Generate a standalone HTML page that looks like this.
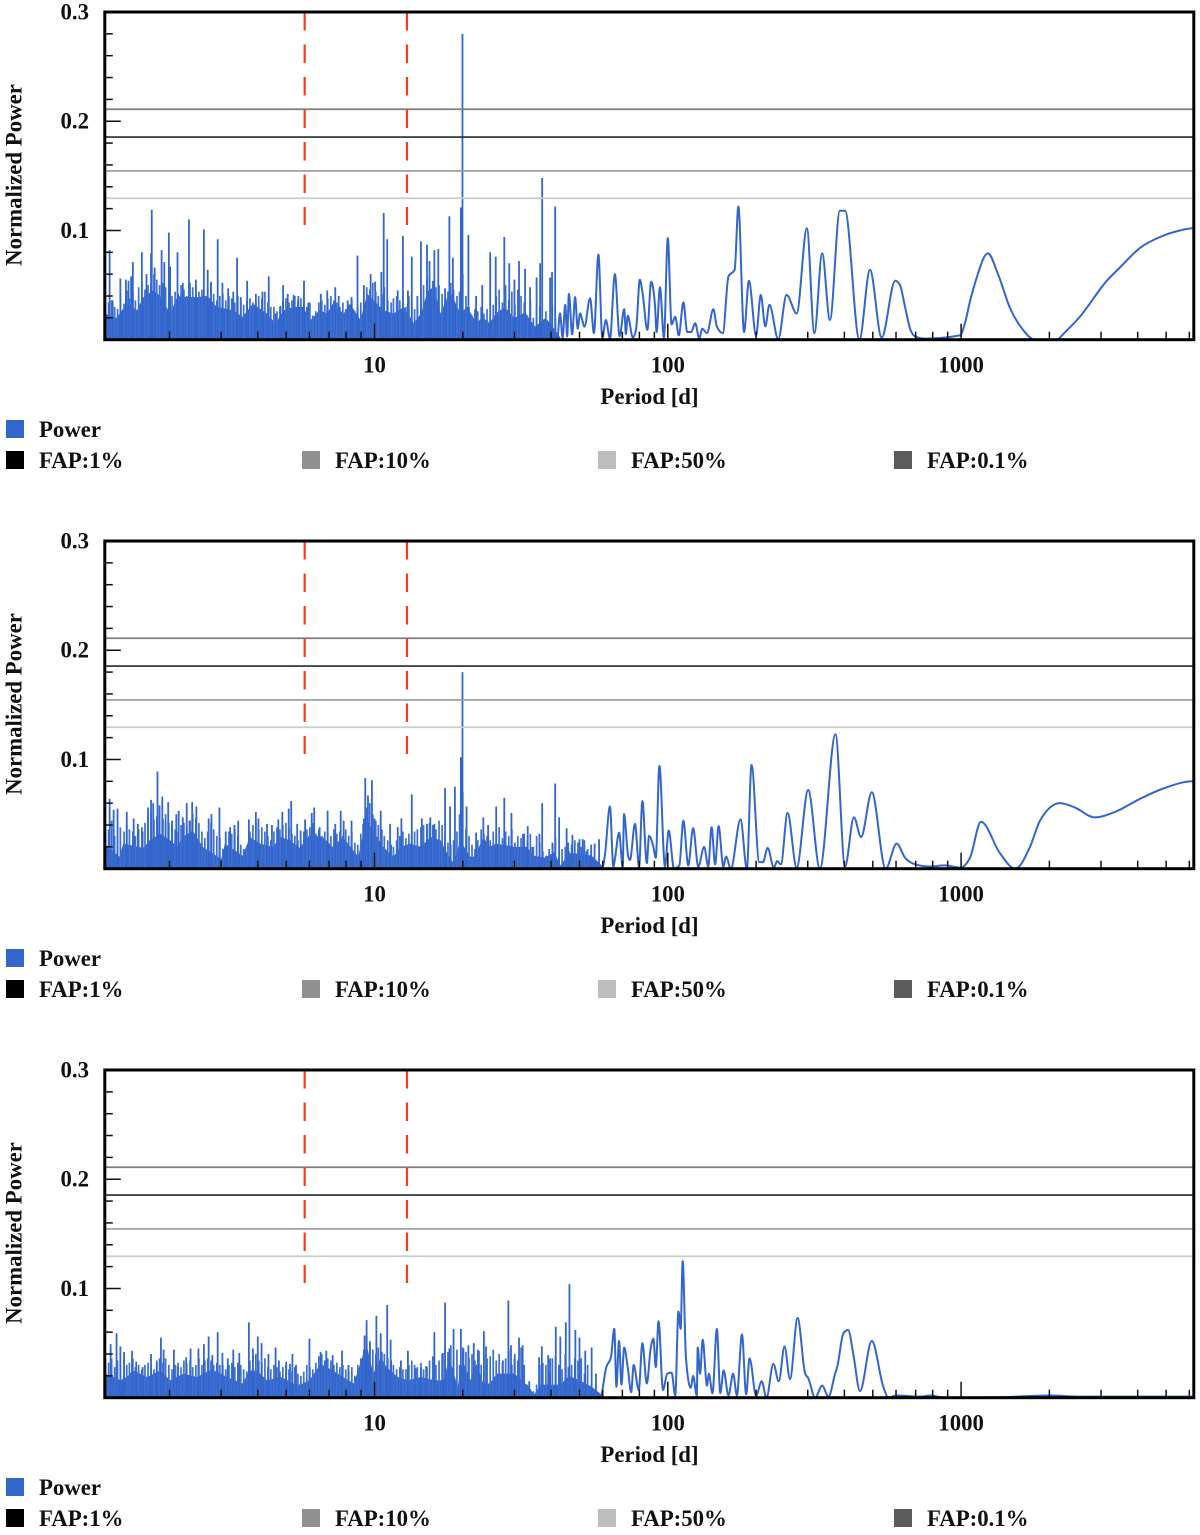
<!DOCTYPE html>
<html lang="en">
<head>
<meta charset="utf-8">
<title>Normalized power periodograms</title>
<style>
html,body{margin:0;padding:0;background:#fff;}
svg{display:block;}
text{font-family:"Liberation Serif",serif;font-weight:bold;font-size:22.8px;fill:#111;}
</style>
</head>
<body>
<svg id="chart" xmlns="http://www.w3.org/2000/svg" width="1200" height="1535" viewBox="0 0 1200 1535">
  <rect x="0" y="0" width="1200" height="1535" fill="#fff"/>

  <g id="panel-0">
    <g class="plot"></g>
    <text transform="translate(21.5 175) rotate(-90)" text-anchor="middle">Normalized Power</text>
    <text x="649.5" y="404" text-anchor="middle">Period [d]</text>
    <g>
      <rect x="6" y="420" width="18" height="18" fill="#3366cc"/>
      <text x="39" y="437">Power</text>
      <rect x="6" y="451" width="18" height="18" fill="#000"/>
      <text x="39" y="468">FAP:1%</text>
      <rect x="302" y="451" width="18" height="18" fill="#919191"/>
      <text x="335" y="468">FAP:10%</text>
      <rect x="598" y="451" width="18" height="18" fill="#bdbdbd"/>
      <text x="631" y="468">FAP:50%</text>
      <rect x="894" y="451" width="18" height="18" fill="#5c5c5c"/>
      <text x="927" y="468">FAP:0.1%</text>
    </g>
  </g>

  <g id="panel-1" transform="translate(0 529)">
    <g class="plot"></g>
    <text transform="translate(21.5 175) rotate(-90)" text-anchor="middle">Normalized Power</text>
    <text x="649.5" y="404" text-anchor="middle">Period [d]</text>
    <g>
      <rect x="6" y="420" width="18" height="18" fill="#3366cc"/>
      <text x="39" y="437">Power</text>
      <rect x="6" y="451" width="18" height="18" fill="#000"/>
      <text x="39" y="468">FAP:1%</text>
      <rect x="302" y="451" width="18" height="18" fill="#919191"/>
      <text x="335" y="468">FAP:10%</text>
      <rect x="598" y="451" width="18" height="18" fill="#bdbdbd"/>
      <text x="631" y="468">FAP:50%</text>
      <rect x="894" y="451" width="18" height="18" fill="#5c5c5c"/>
      <text x="927" y="468">FAP:0.1%</text>
    </g>
  </g>

  <g id="panel-2" transform="translate(0 1058)">
    <g class="plot"></g>
    <text transform="translate(21.5 175) rotate(-90)" text-anchor="middle">Normalized Power</text>
    <text x="649.5" y="404" text-anchor="middle">Period [d]</text>
    <g>
      <rect x="6" y="420" width="18" height="18" fill="#3366cc"/>
      <text x="39" y="437">Power</text>
      <rect x="6" y="451" width="18" height="18" fill="#000"/>
      <text x="39" y="468">FAP:1%</text>
      <rect x="302" y="451" width="18" height="18" fill="#919191"/>
      <text x="335" y="468">FAP:10%</text>
      <rect x="598" y="451" width="18" height="18" fill="#bdbdbd"/>
      <text x="631" y="468">FAP:50%</text>
      <rect x="894" y="451" width="18" height="18" fill="#5c5c5c"/>
      <text x="927" y="468">FAP:0.1%</text>
    </g>
  </g>
</svg>

<script>
// ---- shared axis values ----
const yMajorTicks = [0.1, 0.2, 0.3];
const yMajorLabels = ['0.1', '0.2', '0.3'];
const yMinorTicks = [0.02, 0.04, 0.06, 0.08, 0.12, 0.14, 0.16, 0.18, 0.22, 0.24, 0.26, 0.28];
const xMajorTicks = [10, 100, 1000];
const xMajorLabels = ['10', '100', '1000'];
const xMinorTicks = [2, 3, 4, 5, 6, 7, 8, 9, 20, 30, 40, 50, 60, 70, 80, 90, 200, 300, 400, 500, 600, 700, 800, 900, 2000, 3000, 4000, 5000, 6000];
const fapLevels = [0.211, 0.1855, 0.1545, 0.1295];
const fapNames = ['fap-0-1-line', 'fap-1-line', 'fap-10-line', 'fap-50-line'];
const fapColors = ['#7d7d7d', '#2a2a2a', '#9a9a9a', '#cccccc'];
const markerPeriods = [5.78, 12.9];
const markerFloor = 0.105;

// periods at which the dense forest of lesser peaks was read
const fineGridPeriods = [1.21,1.24,1.27,1.30,1.33,1.36,1.40,1.43,1.46,1.50,
  1.53,1.57,1.61,1.65,1.69,1.73,1.77,1.81,1.85,1.90,
  1.94,1.99,2.04,2.09,2.14,2.19,2.24,2.29,2.35,2.40,
  2.46,2.52,2.58,2.64,2.70,2.77,2.83,2.90,2.97,3.04,
  3.11,3.19,3.26,3.34,3.42,3.50,3.58,3.67,3.76,3.85,
  3.94,4.03,4.13,4.23,4.33,4.43,4.54,4.65,4.76,4.87,
  4.99,5.11,5.23,5.35,5.48,5.61,5.74,5.88,6.02,6.16,
  6.31,6.46,6.61,6.77,6.93,7.10,7.27,7.44,7.62,7.80,
  7.98,8.17,8.37,8.57,8.77,8.98,9.19,9.41,9.64,9.87,
  10.1,10.3,10.6,10.8,11.1,11.4,11.6,11.9,12.2,12.5,
  12.8,13.1,13.4,13.7,14.0,14.4,14.7,15.1,15.4,15.8,
  16.2,16.6,17.0,17.4,17.8,18.2,18.6,19.1,19.5,20.0,
  20.5,21.0,21.5,22.0,22.5,23.1,23.6,24.2,24.8,25.4,
  26,26.6,27.3,28,28.7,29.4,30.1,30.8,31.6,32.4,
  33.2,34,34.8,35.7,36.6,37.5,38.4,39.4,40.4,41.4,
  42.5,43.6,44.7,45.8,47,48.2,49.4,50.7,52,53.3];

// ---- panel 1 ----
const p1SpikePeriods = [1.25,1.28,1.36,1.42,1.45,1.48,1.50,1.61,1.67,1.73,
  1.74,1.78,1.88,1.92,1.99,2.01,2.13,2.22,2.33,2.46,
  2.62,2.70,2.77,2.92,3.03,3.17,3.30,3.40,3.50,3.68,
  3.94,4.15,4.36,4.60,4.78,4.88,5.06,5.30,5.50,5.75,
  5.95,6.56,6.90,7.35,7.55,8.10,8.35,8.75,9.20,9.70,
  10.05,10.55,10.75,11.05,12.0,12.5,13.0,13.4,14.0,14.4,
  15.1,15.4,16.0,16.5,17.4,18.0,18.5,19.7,19.95,20.9,
  22.2,23.3,24.8,25.9,27.7,28.8,30.0,31.1,32.6,33.9,
  35.7,36.7,37.3,39.7,40.3,41.3];
const p1SpikePowers = [.082,.036,.056,.055,.054,.058,.071,.080,.060,.079,
  .119,.066,.082,.071,.098,.067,.080,.052,.110,.055,
  .101,.064,.053,.092,.052,.047,.044,.075,.039,.054,
  .042,.044,.058,.024,.031,.050,.042,.041,.040,.054,
  .034,.042,.045,.048,.040,.036,.039,.077,.050,.060,
  .053,.062,.116,.092,.045,.095,.045,.076,.040,.090,
  .087,.072,.082,.083,.047,.113,.075,.121,.280,.096,
  .040,.050,.080,.076,.094,.070,.055,.072,.065,.048,
  .057,.070,.148,.057,.062,.122];
const p1FinePowers = [.040,.034,.036,.030,.028,.040,.033,.045,.038,.044,
  .036,.048,.052,.046,.050,.045,.060,.055,.050,.052,
  .048,.050,.040,.044,.042,.050,.046,.040,.052,.048,
  .050,.044,.046,.040,.048,.052,.042,.036,.040,.042,
  .036,.040,.038,.034,.040,.036,.032,.036,.038,.034,
  .036,.040,.038,.044,.034,.030,.030,.026,.030,.036,
  .038,.034,.036,.040,.036,.038,.042,.030,.034,.022,
  .026,.034,.036,.032,.038,.040,.036,.034,.030,.034,
  .028,.032,.036,.026,.030,.034,.040,.048,.046,.052,
  .044,.040,.042,.048,.036,.034,.038,.040,.036,.044,
  .030,.040,.034,.028,.030,.046,.050,.056,.058,.054,
  .048,.050,.042,.038,.044,.052,.046,.040,.044,.060,
  .040,.030,.022,.028,.026,.030,.024,.028,.020,.032,
  .040,.046,.034,.050,.036,.044,.032,.046,.040,.034,
  .022,.036,.020,.028,.030,.014,.026,.010,.032,.020,
  0,0,0,0,0,0,0,0,0,0];
const p1BodyPeriods = [1.2,1.32,1.43,1.55,1.63,1.76,1.86,2.01,2.13,2.3,
  2.48,2.7,2.9,3.3,3.55,3.85,4.3,4.6,4.9,5.3,
  5.7,6.05,6.5,6.9,7.2,7.85,8.25,8.95,9.45,10.2,
  10.7,11.6,12.6,13.6,14.4,15.2,15.9,16.8,18.1,19.6,
  20.7,22.3,23.3,24.7,25.9,27.8,30,32.6,35.3,38.3,41,43];
const p1BodyPowers = [.024,.020,.033,.027,.039,.045,.040,.024,.040,.039,
  .039,.040,.030,.027,.021,.033,.024,.015,.027,.030,
  .030,.018,.027,.024,.033,.024,.033,.018,.042,.033,
  .027,.024,.030,.015,.024,.045,.048,.024,.045,.024,
  .030,.015,.021,.015,.024,.030,.020,.025,.012,.020,.010,.002];
const p1CurvePeriods = [42,42.9,43.8,44.7,45.4,46,47.2,48.3,49.3,50.2,
  52,54.3,56,58,59.8,61.5,63.5,66,68.5,71,
  72,73,76,78,80.3,82,85.2,87.7,90.4,91.6,
  94,97,100,103,106,109,113,116.5,120,124,
  128,131,136,143,147,154,161,169,174,182,
  189,200,207.5,215,222,238,254,275,298,316,
  336,357,386,402,450,489,536,596,619,644,
  670,697,750,991,1030,1072,1122,1234,1336,1468,
  1626,1786,2138,2173,2541,3141,3476,4074,4764,5572,6170];
const p1CurvePowers = [.001,.024,.002,.032,.003,.042,.005,.039,.010,.024,
  .012,.038,.006,.078,.002,.018,.001,.060,.003,.028,
  .005,.022,.002,.010,.055,.043,.009,.053,.032,.007,
  .048,.002,.093,.014,.021,.004,.034,.007,.007,.015,
  .001,.010,.006,.028,.012,.006,.058,.064,.122,.007,
  .054,.004,.041,.012,.032,.0005,.041,.024,.102,.006,
  .079,.018,.118,.118,.000,.064,.002,.054,.050,.030,
  .010,.003,.001,.004,.015,.035,.054,.079,.060,.029,
  .009,.000,.000,.002,.021,.054,.066,.084,.094,.100,.102];

// ---- panel 2 ----
const p2SpikePeriods = [1.25,1.29,1.33,1.43,1.51,1.56,1.62,1.69,1.73,1.76,
  1.82,1.85,1.89,1.94,1.98,2.04,2.11,2.15,2.22,2.29,
  2.34,2.39,2.47,2.72,2.78,2.96,3.11,3.22,3.33,3.43,
  3.73,3.94,4.02,4.3,4.47,4.7,4.85,5.1,5.2,5.45,
  5.6,5.8,6.11,6.23,6.5,6.92,7.35,7.67,7.85,8.35,
  9.15,9.3,9.5,9.8,10,10.5,11.3,12.0,12.35,13.4,
  14.5,15.1,15.5,16,17.4,18.1,18.8,19.7,19.95,20.6,
  22.2,23.5,24.4,26,27.7,29.3,32.1,33.3,34.5,36.5,
  37.3,40.5,41.3,42.6,45.2,46,47.3,50,51.3,52.8,
  54.8,56.3,58.3];
const p2SpikePowers = [.064,.054,.055,.052,.046,.041,.034,.056,.063,.060,
  .089,.058,.066,.044,.061,.044,.050,.053,.047,.060,
  .044,.061,.057,.046,.050,.056,.034,.038,.040,.044,
  .045,.052,.046,.041,.040,.045,.052,.055,.062,.041,
  .035,.045,.051,.056,.038,.053,.041,.053,.044,.044,
  .041,.083,.067,.081,.046,.053,.041,.038,.046,.068,
  .046,.041,.047,.041,.074,.057,.075,.102,.180,.057,
  .033,.047,.040,.057,.065,.051,.032,.039,.020,.032,
  .060,.023,.078,.047,.037,.016,.031,.027,.027,.016,
  .022,.023,.027];
const p2FinePowers = [.042,.036,.044,.030,.026,.038,.034,.040,.036,.034,
  .030,.036,.038,.042,.048,.050,.045,.048,.044,.046,
  .050,.042,.040,.036,.034,.040,.042,.038,.044,.050,
  .046,.042,.034,.028,.034,.042,.036,.030,.028,.018,
  .022,.034,.032,.036,.030,.022,.018,.020,.034,.040,
  .042,.036,.038,.034,.030,.026,.034,.038,.036,.040,
  .042,.038,.032,.030,.026,.024,.034,.036,.038,.042,
  .032,.036,.030,.034,.036,.030,.036,.032,.034,.030,
  .036,.030,.034,.024,.022,.032,.046,.056,.060,.050,
  .044,.040,.036,.030,.026,.022,.020,.026,.030,.034,
  .028,.032,.030,.034,.036,.038,.040,.038,.042,.040,
  .036,.044,.040,.030,.024,.022,.026,.034,.050,.070,
  .036,.030,.022,.018,.026,.036,.032,.030,.026,.034,
  .030,.038,.028,.034,.030,.036,.024,.030,.028,.032,
  .026,.032,.020,.030,.024,.016,.012,.018,.024,.028,
  .010,.018,.020,.024,.022,.026,.024,.020,.026,.018];
const p2BodyPeriods = [1.2,1.35,1.39,1.63,1.71,1.86,2.01,2.13,2.22,2.4,
  2.6,3,3.09,3.55,3.76,4.07,4.5,4.78,5.15,5.56,
  6,6.66,7.2,7.8,8.8,9.15,9.45,9.9,10.7,11.6,
  12.3,13.2,14.4,15.5,16.8,17.7,18.6,19.6,21.2,22,
  23.5,24.7,26,30,33,35,38,41,43,46,50,55,60];
const p2BodyPowers = [.023,.011,.023,.019,.026,.032,.026,.020,.029,.035,
  .020,.009,.023,.012,.029,.023,.020,.029,.026,.019,
  .031,.029,.020,.029,.011,.032,.044,.035,.020,.011,
  .020,.023,.020,.029,.026,.014,.005,.026,.011,.011,
  .029,.020,.023,.020,.020,.012,.010,.015,.003,.014,.014,.012,.002];
const p2CurvePeriods = [60,61,63.5,65.2,66.1,68.2,70.2,70.9,73.3,74.3,
  77.3,79.8,81.9,84.8,86.3,89.3,91,93.6,97.8,100.7,
  105,109.5,113,117.4,122,127,133,137.4,141,145,
  149,154.6,158,164,177,186,193,205,211,219,
  230,236,243,256,275,301,330,373,402,431,
  456,496,553,603,644,697,783,881,991,1072,
  1169,1358,1528,1718,1858,2173,2443,2858,3350,4074,4955,6170];
const p2CurvePowers = [.002,.012,.057,.002,.010,.033,.002,.050,.011,.008,
  .041,.002,.062,.005,.030,.020,.010,.094,.002,.035,
  .000,.003,.044,.003,.037,.002,.020,.002,.038,.004,
  .039,.002,.011,.000,.045,.000,.095,.006,.006,.019,
  .001,.007,.004,.051,.001,.072,.000,.123,.002,.047,
  .029,.070,.000,.023,.010,.004,.002,.003,.001,.010,
  .043,.014,.000,.020,.044,.060,.056,.047,.052,.064,.074,.080];

// ---- panel 3 ----
const p3SpikePeriods = [1.26,1.32,1.36,1.40,1.49,1.54,1.62,1.73,1.81,1.87,
  1.91,2.07,2.13,2.28,2.36,2.51,2.62,2.72,2.80,2.92,
  3.03,3.16,3.30,3.46,3.73,3.85,4.0,4.12,4.35,4.6,
  4.72,5.0,5.15,5.25,5.4,6.0,6.55,6.85,7.2,7.75,
  8.15,9.05,9.25,9.4,9.65,10.15,10.5,11.05,11.35,12.3,
  13,13.8,14.4,15,16,17.1,17.4,18,18.6,19.7,
  20.1,20.9,21.8,22.7,23.6,24,27.4,28.6,29.2,30,
  31.1,32,33.7,36.4,37.2,39.1,39.7,41.5,43,44.9,
  46.2,48.4,50,52.3,55,56.9];
const p3SpikePowers = [.049,.059,.047,.042,.043,.033,.028,.040,.032,.055,
  .044,.044,.029,.037,.045,.045,.049,.056,.039,.060,
  .041,.036,.044,.041,.069,.045,.056,.050,.040,.046,
  .034,.033,.031,.040,.030,.054,.042,.043,.039,.043,
  .030,.036,.057,.071,.050,.075,.059,.085,.053,.034,
  .043,.027,.028,.029,.060,.041,.087,.045,.063,.063,
  .045,.048,.050,.043,.061,.047,.034,.089,.048,.036,
  .055,.048,.015,.037,.047,.039,.036,.065,.056,.069,
  .104,.062,.055,.043,.046,.022];
const p3FinePowers = [.030,.032,.036,.028,.034,.030,.034,.030,.032,.036,
  .028,.030,.026,.030,.032,.028,.026,.034,.036,.032,
  .036,.030,.026,.030,.032,.028,.034,.032,.034,.028,
  .030,.036,.030,.034,.036,.034,.030,.032,.030,.030,
  .026,.030,.032,.028,.032,.030,.026,.024,.034,.038,
  .040,.034,.032,.036,.028,.026,.030,.028,.024,.028,
  .030,.026,.024,.028,.022,.020,.024,.030,.028,.026,
  .032,.038,.040,.034,.036,.034,.030,.032,.028,.030,
  .026,.024,.028,.020,.030,.036,.044,.056,.052,.044,
  .040,.046,.042,.040,.036,.034,.030,.026,.028,.026,
  .026,.030,.034,.030,.028,.032,.026,.028,.034,.038,
  .030,.034,.040,.046,.042,.048,.036,.044,.030,.046,
  .042,.036,.040,.034,.044,.030,.040,.036,.038,.044,
  .034,.040,.032,.036,.044,.030,.040,.034,.046,.030,
  .012,.008,.006,.012,.030,.032,.030,.024,.036,.038,
  .030,.026,.040,.028,.030,.036,.034,.036,.022,.030];
const p3BodyPeriods = [1.2,1.29,1.36,1.43,1.5,1.68,1.86,2.01,2.23,2.48,
  2.75,2.9,3.14,3.55,3.75,3.97,4.3,4.8,5.3,5.6,
  6,6.55,7.2,7.8,8.5,9.15,9.45,9.9,10.5,11,
  12,13,14.4,16,17.2,18,19.2,20,21.2,22.3,
  23.5,24.7,26.1,30,33,35,37,43,46,50,55,60];
const p3BodyPowers = [.022,.019,.016,.019,.025,.019,.025,.016,.022,.019,
  .025,.024,.019,.013,.025,.025,.016,.019,.013,.012,
  .016,.031,.025,.019,.013,.040,.046,.022,.037,.028,
  .019,.016,.019,.016,.016,.037,.010,.034,.016,.031,
  .013,.013,.022,.022,.012,.003,.012,.012,.020,.016,.010,.002];
const p3CurvePeriods = [59,61.7,64,65.7,66.8,68.2,69.5,71,73,75,
  76.5,79.6,81.9,84.8,87.4,89.3,91,93,96.3,99.6,
  103,106,108.7,110.6,112.4,115.3,119.7,122,125.5,126.5,
  128.8,131.5,136,138,142,147,151,155,161,167,
  172,179,185,190,200,209,217,229,239,250,
  261,277,294,301,318,336,353,372,378,397,
  412,429,452,496,543,565,603,724,783,881,
  1358,2010,2541,6170];
const p3CurvePowers = [.002,.028,.037,.063,.010,.052,.012,.046,.028,.005,
  .030,.007,.050,.013,.045,.054,.028,.070,.007,.022,
  .023,.002,.079,.063,.125,.037,.009,.020,.002,.046,
  .022,.053,.011,.022,.004,.063,.004,.025,.002,.022,
  .002,.058,.003,.036,.002,.015,.000,.031,.015,.047,
  .017,.073,.022,.018,.000,.011,.001,.022,.028,.059,
  .062,.040,.006,.052,.010,.000,.002,.001,.002,.000,
  .0005,.002,.001,.001];

const panelSeries = [
  {sp:p1SpikePeriods, sv:p1SpikePowers, fv:p1FinePowers, bp:p1BodyPeriods, bv:p1BodyPowers, cp:p1CurvePeriods, cv:p1CurvePowers},
  {sp:p2SpikePeriods, sv:p2SpikePowers, fv:p2FinePowers, bp:p2BodyPeriods, bv:p2BodyPowers, cp:p2CurvePeriods, cv:p2CurvePowers},
  {sp:p3SpikePeriods, sv:p3SpikePowers, fv:p3FinePowers, bp:p3BodyPeriods, bv:p3BodyPowers, cp:p3CurvePeriods, cv:p3CurvePowers}
];

// ---- axis functions (panel-local pixels) ----
const PLOT_LEFT = 104.8, PLOT_RIGHT = 1193.8, PLOT_TOP = 12, PLOT_BOTTOM = 339.7;
function xScale(period) { return 374.5 + 293.3 * (Math.log10(period) - 1); }
function yScale(power) { return PLOT_BOTTOM - (PLOT_BOTTOM - PLOT_TOP) * power / 0.3; }

const NS = 'http://www.w3.org/2000/svg';
function make(tag, parent) {
  const el = document.createElementNS(NS, tag);
  parent.appendChild(el);
  return el;
}
function smoothPath(xs, ys) {
  // monotone cubic interpolation through every reading
  const n = xs.length, m = [];
  for (let i = 0; i < n; i++) {
    if (i === 0 || i === n - 1) { m.push(0); continue; }
    const ha = xs[i] - xs[i-1], hb = xs[i+1] - xs[i];
    const a = (ys[i] - ys[i-1]) / ha, b = (ys[i+1] - ys[i]) / hb;
    if (a * b <= 0) { m.push(0); continue; }
    const p = (a * hb + b * ha) / (ha + hb);
    m.push(Math.sign(a) * Math.min(Math.abs(a) * 2, Math.abs(b) * 2, Math.abs(p)));
  }
  let d = 'M' + xs[0].toFixed(2) + ' ' + ys[0].toFixed(2);
  for (let i = 0; i < n - 1; i++) {
    const h = (xs[i+1] - xs[i]) / 3;
    d += 'C' + (xs[i] + h).toFixed(2) + ' ' + (ys[i] + m[i] * h).toFixed(2) + ' ' +
         (xs[i+1] - h).toFixed(2) + ' ' + (ys[i+1] - m[i+1] * h).toFixed(2) + ' ' +
         xs[i+1].toFixed(2) + ' ' + ys[i+1].toFixed(2);
  }
  return d;
}

panelSeries.forEach(function (series, idx) {
  const plot = document.querySelector('#panel-' + idx + ' .plot');

  // dense floor of the periodogram
  let bodyD = 'M' + xScale(series.bp[0]).toFixed(2) + ' ' + PLOT_BOTTOM;
  series.bp.forEach(function (p, i) {
    bodyD += 'L' + xScale(p).toFixed(2) + ' ' + yScale(series.bv[i]).toFixed(2);
  });
  bodyD += 'L' + xScale(series.bp[series.bp.length - 1]).toFixed(2) + ' ' + PLOT_BOTTOM + 'Z';
  const body = make('path', plot);
  
  
  body.setAttribute('d', bodyD);
  body.setAttribute('fill', '#3366cc');

  // forest of lesser peaks
  let fineD = '';
  fineGridPeriods.forEach(function (p, i) {
    if (!series.fv[i]) { return; }
    const x = xScale(p).toFixed(2);
    fineD += 'M' + x + ' ' + PLOT_BOTTOM + 'L' + x + ' ' + yScale(series.fv[i]).toFixed(2);
  });
  const fine = make('path', plot);
  
  
  fine.setAttribute('d', fineD);
  fine.setAttribute('fill', 'none');
  fine.setAttribute('stroke', '#3f70d0');
  fine.setAttribute('stroke-width', '1.7');

  // individual spikes
  let spikeD = '';
  series.sp.forEach(function (p, i) {
    const x = xScale(p).toFixed(2);
    spikeD += 'M' + x + ' ' + PLOT_BOTTOM + 'L' + x + ' ' + yScale(series.sv[i]).toFixed(2);
  });
  const spikes = make('path', plot);
  
  
  spikes.setAttribute('d', spikeD);
  spikes.setAttribute('fill', 'none');
  spikes.setAttribute('stroke', '#3366cc');
  spikes.setAttribute('stroke-width', '1.8');

  // smooth long-period part
  const curve = make('path', plot);
  
  
  curve.setAttribute('d', smoothPath(series.cp.map(xScale), series.cv.map(yScale)));
  curve.setAttribute('fill', 'none');
  curve.setAttribute('stroke', '#3366cc');
  curve.setAttribute('stroke-width', '2');

  // FAP levels
  fapLevels.forEach(function (level, i) {
    const line = make('line', plot);
    
    
    line.setAttribute('x1', PLOT_LEFT);
    line.setAttribute('x2', PLOT_RIGHT);
    line.setAttribute('y1', yScale(level));
    line.setAttribute('y2', yScale(level));
    line.setAttribute('stroke', fapColors[i]);
    line.setAttribute('stroke-width', '1.7');
  });

  // red period markers
  markerPeriods.forEach(function (period) {
    const marker = make('line', plot);
    
    
    marker.setAttribute('x1', xScale(period));
    marker.setAttribute('x2', xScale(period));
    marker.setAttribute('y1', PLOT_TOP);
    marker.setAttribute('y2', yScale(markerFloor));
    marker.setAttribute('stroke', '#ff3a1c');
    marker.setAttribute('stroke-width', '2.2');
    marker.setAttribute('stroke-dasharray', '18.5 14');
  });

  // y ticks
  yMinorTicks.forEach(function (v) {
    const t = make('line', plot);
    
    
    t.setAttribute('x1', PLOT_LEFT);
    t.setAttribute('x2', PLOT_LEFT + 8);
    t.setAttribute('y1', yScale(v));
    t.setAttribute('y2', yScale(v));
    t.setAttribute('stroke', '#111');
    t.setAttribute('stroke-width', '1.5');
  });
  yMajorTicks.forEach(function (v, i) {
    const t = make('line', plot);
    
    
    t.setAttribute('x1', PLOT_LEFT);
    t.setAttribute('x2', PLOT_LEFT + 16);
    t.setAttribute('y1', yScale(v));
    t.setAttribute('y2', yScale(v));
    t.setAttribute('stroke', '#111');
    t.setAttribute('stroke-width', '1.5');
    const label = make('text', plot);
    
    
    label.setAttribute('x', 89);
    label.setAttribute('y', yScale(v) + 7.5);
    label.setAttribute('text-anchor', 'end');
    label.textContent = yMajorLabels[i];
  });

  // x ticks
  xMinorTicks.forEach(function (p) {
    const t = make('line', plot);
    
    
    t.setAttribute('x1', xScale(p));
    t.setAttribute('x2', xScale(p));
    t.setAttribute('y1', PLOT_BOTTOM);
    t.setAttribute('y2', PLOT_BOTTOM - 8);
    t.setAttribute('stroke', '#111');
    t.setAttribute('stroke-width', '1.5');
  });
  xMajorTicks.forEach(function (p, i) {
    const t = make('line', plot);
    
    
    t.setAttribute('x1', xScale(p));
    t.setAttribute('x2', xScale(p));
    t.setAttribute('y1', PLOT_BOTTOM);
    t.setAttribute('y2', PLOT_BOTTOM - 16);
    t.setAttribute('stroke', '#111');
    t.setAttribute('stroke-width', '1.5');
    const label = make('text', plot);
    
    
    label.setAttribute('x', xScale(p));
    label.setAttribute('y', 372.5);
    label.setAttribute('text-anchor', 'middle');
    label.textContent = xMajorLabels[i];
  });

  // plot frame
  const frame = make('rect', plot);
  
  
  frame.setAttribute('x', PLOT_LEFT);
  frame.setAttribute('y', PLOT_TOP);
  frame.setAttribute('width', PLOT_RIGHT - PLOT_LEFT);
  frame.setAttribute('height', PLOT_BOTTOM - PLOT_TOP);
  frame.setAttribute('fill', 'none');
  frame.setAttribute('stroke', '#000');
  frame.setAttribute('stroke-width', '3');
});
</script>
</body>
</html>
